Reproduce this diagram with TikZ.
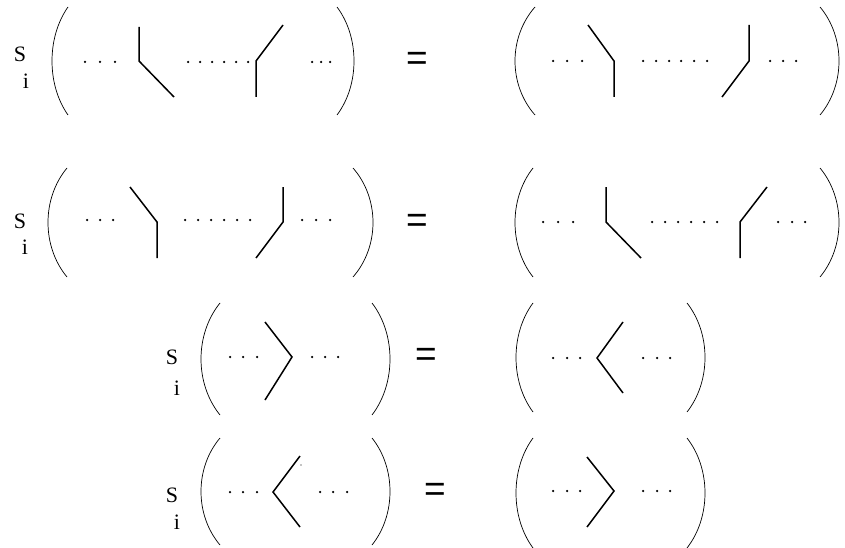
\documentclass[tikz,border=0pt]{standalone}
\usepackage{fontspec}
\setmainfont{Liberation Serif}
\newfontfamily\eqfont{Liberation Sans}
\newcommand\mypar[4]{\draw[parenline] (#1,#2) .. controls ({(8*#4-2*#1)/6},{#2+0.28*(#3-#2)}) and ({(8*#4-2*#1)/6},{#3-0.28*(#3-#2)}) .. (#1,#3);}
\newcommand\mydots[2]{\foreach \xx in {#1} {\fill (\xx,#2) circle (1.25);}}
\begin{document}
\begin{tikzpicture}[x=1pt,y=-1pt,
  parenline/.style={line width=0.7pt},
  strand/.style={line width=1.5pt, line join=miter},
  letter/.style={inner sep=0pt, font=\fontsize{22}{22}\selectfont},
  equal/.style={inner sep=0pt, font=\eqfont\fontsize{37}{37}\selectfont}]
\useasboundingbox (0,0) rectangle (845,548);
% ---------- row 1 ----------
\node[letter] (s1) at (20,54) {S};
\node[letter] (i1) at (26,81) {i};
\node[equal] (e1) at (417,61.5) {=};
\mypar{68}{7}{115}{52}
\mypar{337}{7}{115}{354}
\mypar{535}{7}{115}{515}
\mypar{820}{7}{115}{839}
\mydots{85,100,115}{62}
\mydots{188,200,212,224,236,248}{62}
\mydots{312,321,330}{62}
\mydots{553,567,582}{61}
\mydots{643,656,669,681,694,707}{61}
\mydots{770,783,796}{61}
\draw[strand] (139,27) -- (139,61) -- (174,97);
\draw[strand] (283,25) -- (256,61) -- (256,97);
\draw[strand] (588,25) -- (614,61) -- (614,97);
\draw[strand] (749,25) -- (749,61) -- (722,97);
% ---------- row 2 ----------
\node[letter] (s2) at (20,221) {S};
\node[letter] (i2) at (25,247) {i};
\node[equal] (e2) at (417,223.5) {=};
\mypar{67}{168}{277}{48}
\mypar{353}{168}{277}{373}
\mypar{533}{168}{277}{515}
\mypar{820}{168}{277}{839}
\mydots{87,100,113}{220}
\mydots{185,198,211,224,237,250}{220}
\mydots{302,316,330}{220}
\mydots{543,558,573}{222}
\mydots{652,665,678,691,704,717}{222}
\mydots{778,792,805}{222}
\draw[strand] (130,187) -- (157,222) -- (157,258);
\draw[strand] (283,187) -- (283,222) -- (256,258);
\draw[strand] (606,187) -- (606,222) -- (641,258);
\draw[strand] (767,187) -- (740,222) -- (740,258);
% ---------- row 3 ----------
\node[letter] (s3) at (172,357) {S};
\node[letter] (i3) at (177,388) {i};
\node[equal] (e3) at (426,357.5) {=};
\mypar{220}{303}{415}{201}
\mypar{372}{303}{415}{390}
\mypar{533}{303}{412}{516}
\mypar{687}{303}{412}{705}
\mydots{230,243,257}{357}
\mydots{312,325,338}{357}
\mydots{553,567,580}{358}
\mydots{643,657,670}{358}
\draw[strand] (265,322) -- (292,357) -- (265,400);
\draw[strand] (623,322) -- (597,358) -- (623,393);
% ---------- row 4 ----------
\node[letter] (s4) at (172,495) {S};
\node[letter] (i4) at (177,522) {i};
\node[equal] (e4) at (435,492.5) {=};
\mypar{220}{438}{545}{201}
\mypar{372}{438}{545}{390}
\mypar{533}{438}{548}{516}
\mypar{687}{438}{548}{705}
\mydots{230,243,257}{492}
\mydots{320,333,347}{492}
\mydots{553,567,580}{491}
\mydots{643,657,670}{491}
\fill (301,465) circle (0.6);
\draw[strand] (300,456) -- (273,492) -- (300,527);
\draw[strand] (587,457) -- (614,491) -- (587,527);
\end{tikzpicture}
\end{document}
